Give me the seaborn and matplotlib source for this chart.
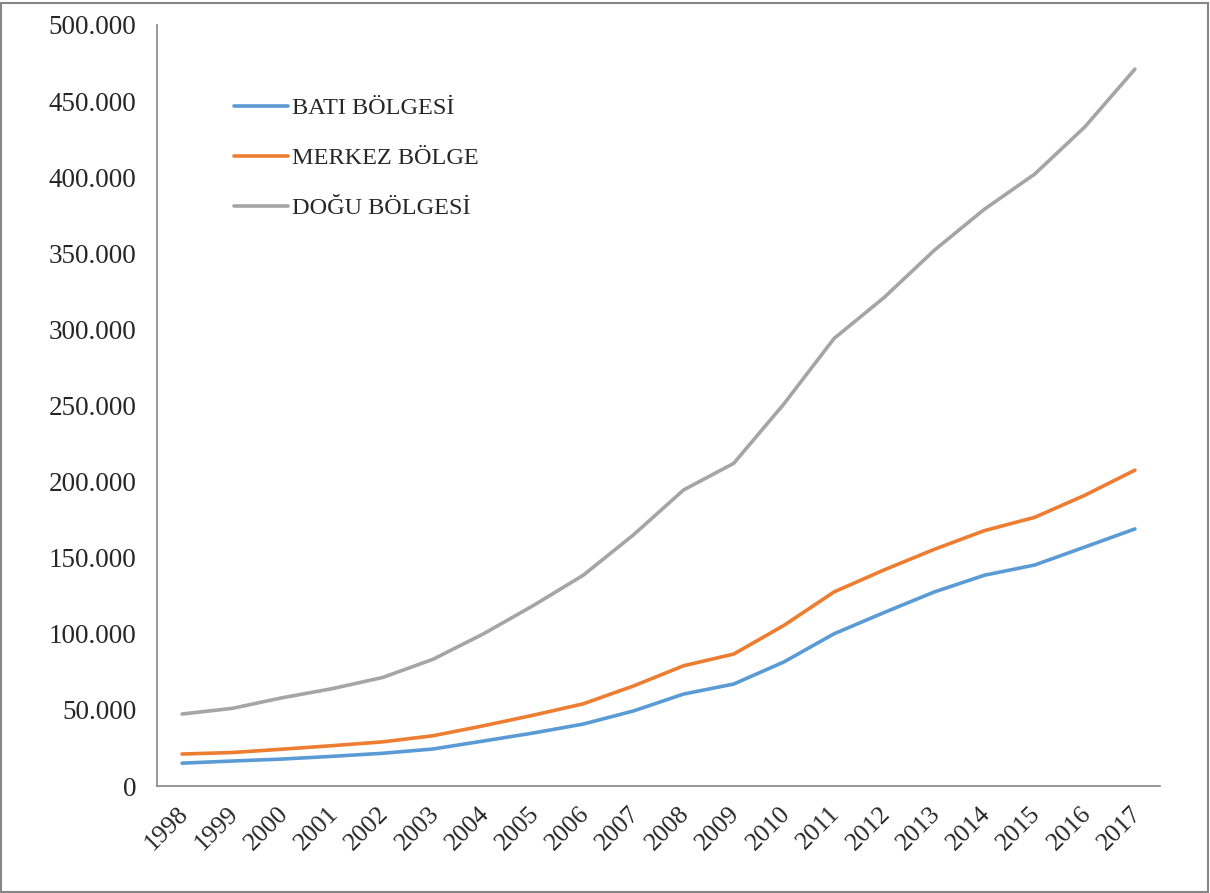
import pandas as pd
import numpy as np
import seaborn as sns
import matplotlib.pyplot as plt
import matplotlib.transforms as mtransforms
from matplotlib.ticker import FuncFormatter, FixedLocator
from matplotlib.patches import Rectangle

# Veriler
years = [str(y) for y in range(1998, 2018)]
bati = [15.0, 16.4, 17.7, 19.5, 21.5, 24.3, 29.5, 34.8, 40.7, 49.3,
        60.4, 67.0, 81.5, 100.0, 114.0, 127.5, 138.5, 145.2, 157.0, 168.9]
merkez = [21.0, 22.0, 24.2, 26.5, 29.0, 33.0, 39.5, 46.5, 54.0, 65.7,
          79.0, 86.7, 105.5, 127.5, 142.0, 155.5, 167.8, 176.5, 191.0, 207.5]
dogu = [47.3, 51.0, 58.0, 64.0, 71.3, 83.2, 99.8, 118.5, 138.5, 165.0,
        194.5, 212.0, 251.0, 294.0, 321.0, 352.0, 379.0, 402.0, 433.0, 471.0]
series_names = ['BATI BÖLGESİ', 'MERKEZ BÖLGE', 'DOĞU BÖLGESİ']
colors = ['#5B9BD5', '#ED7D31', '#A5A5A5']

df = pd.DataFrame({
    'yil': years * 3,
    'deger': np.array(bati + merkez + dogu) * 1000,
    'bolge': [series_names[0]] * 20 + [series_names[1]] * 20 + [series_names[2]] * 20,
})

sns.set_style('white')
plt.rcParams['font.family'] = ['Liberation Serif', 'DejaVu Serif']

fig = plt.figure(figsize=(12.1, 8.93), dpi=100)
ax = fig.add_axes([157 / 1210, 1 - 786 / 893, (1160 - 157) / 1210, (786 - 25) / 893])

sns.lineplot(data=df, x='yil', y='deger', hue='bolge', palette=colors,
             linewidth=2.6, ax=ax, sort=False)

ax.set_xlim(-0.5, 19.5)
ax.set_ylim(0, 500000)
ax.set_xlabel('')
ax.set_ylabel('')

# x ekseni: kategori sınırlarında tik, ortada etiket
ax.xaxis.set_major_locator(FixedLocator(np.arange(-0.5, 20, 1)))
ax.xaxis.set_major_formatter(FuncFormatter(lambda v, p: ''))
ax.xaxis.set_minor_locator(FixedLocator(np.arange(20)))
ax.set_xticklabels(years, minor=True)
ax.tick_params(axis='x', which='major', length=7, width=1.2, color='#868686', direction='out')
ax.tick_params(axis='x', which='minor', length=0, labelsize=18.5, pad=12)
shift = mtransforms.ScaledTranslation(-0.05, 0, fig.dpi_scale_trans)
for lbl in ax.get_xticklabels(minor=True):
    lbl.set_rotation(45)
    lbl.set_ha('right')
    lbl.set_rotation_mode('anchor')
    lbl.set_transform(lbl.get_transform() + shift)

ax.set_yticks(np.arange(0, 500001, 50000))
ax.yaxis.set_major_formatter(FuncFormatter(lambda v, p: f"{int(v):,}".replace(',', '.')))
ax.tick_params(axis='y', length=7, width=1.2, color='#868686', direction='out',
               labelsize=19.5, pad=8)

for s in ['top', 'right']:
    ax.spines[s].set_visible(False)
for s in ['left', 'bottom']:
    ax.spines[s].set_color('#868686')
    ax.spines[s].set_linewidth(1.2)

ax.legend(loc='upper left', bbox_to_anchor=(0.055, 0.934), frameon=False,
          fontsize=17.5, handlelength=2.2, handletextpad=0.17, labelspacing=1.15)

# figür çerçevesi
fig.patches.append(Rectangle((0.001, 0.001), 0.997, 0.996, transform=fig.transFigure,
                             fill=False, edgecolor='#868686', linewidth=1.5))

plt.savefig('out.png', dpi=100)
